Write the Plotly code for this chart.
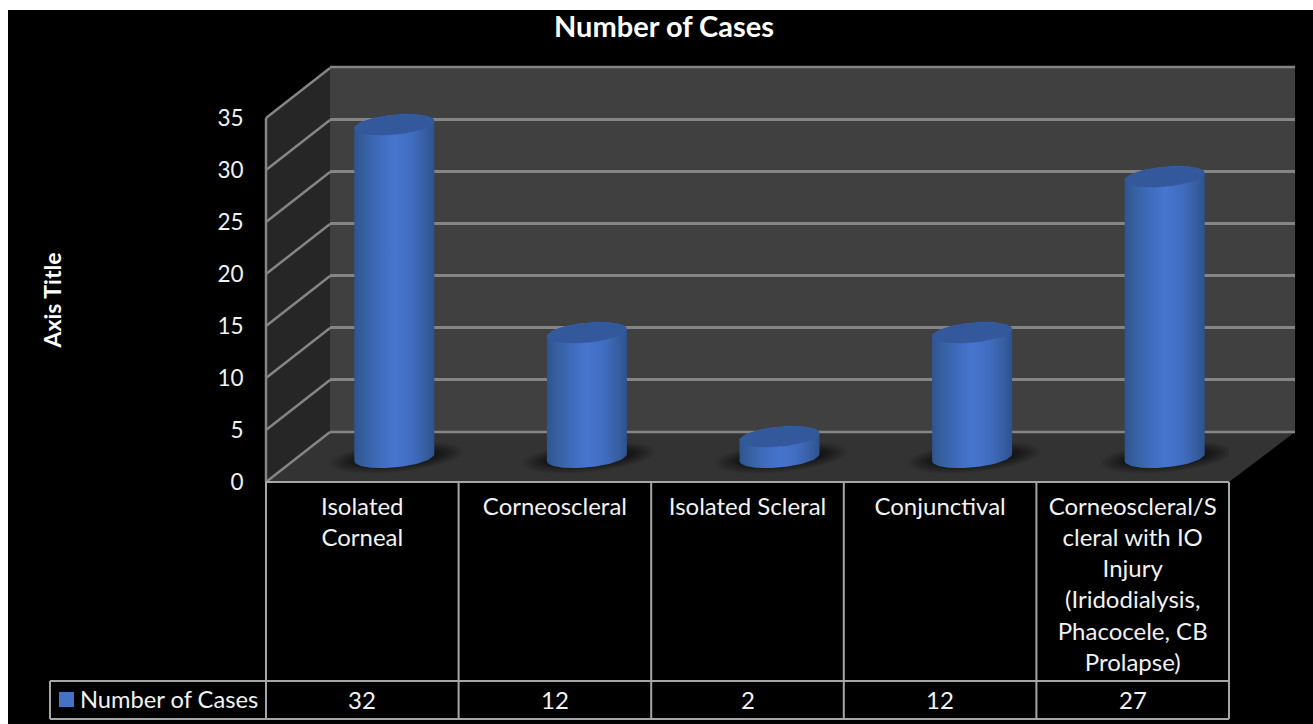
import math
import plotly.graph_objects as go

W, H = 1313, 724

# Chart data
categories = [
    ["Isolated", "Corneal"],
    ["Corneoscleral"],
    ["Isolated Scleral"],
    ["Conjunctival"],
    ["Corneoscleral/S", "cleral with IO", "Injury", "(Iridodialysis,", "Phacocele, CB", "Prolapse)"],
]
series_name = "Number of Cases"
cases = [32, 12, 2, 12, 27]
value_ticks = [0, 5, 10, 15, 20, 25, 30, 35]

# Pixel frame of the front plane, the back wall and the data table
FRONT_L, FRONT_R, FRONT_B, FRONT_T = 266, 1229, 482, 118
BACK_L, BACK_R, BACK_B, BACK_T = 330, 1295, 432, 67
TABLE_L, TABLE_ROW, TABLE_BOTTOM = 50, 681, 719

X_SCALE = (FRONT_R - FRONT_L) / 5          # px per category
Y_SCALE = (FRONT_B - FRONT_T) / 35         # px per case

# The front value axis runs past 0 and 35 so the cylinder caps are not clipped
Y_MIN, Y_MAX = -5, 40

# Cylinder geometry, in px, converted to axis units below
DEPTH_X, DEPTH_Y = 32, 24.5
RADIUS_X, RADIUS_Y, TILT = 40, 10, 0.09

TEXT = "#f2f2f2"
FONT = "Lato"
LABEL_SIZE = 24
GRID = "#858585"


def px(x):
    return x / W


def py(y):
    return 1 - y / H


def poly(points, fill, line=None, width=0):
    path = "M" + "L".join(f"{px(x):.5f},{py(y):.5f}" for x, y in points) + "Z"
    return dict(type="path", xref="paper", yref="paper", path=path, fillcolor=fill,
                line=dict(color=line or "rgba(0,0,0,0)", width=width), layer="below")


def seg(x0, y0, x1, y1, color=GRID, width=2.5):
    return dict(type="line", xref="paper", yref="paper", x0=px(x0), y0=py(y0), x1=px(x1), y1=py(y1),
                line=dict(color=color, width=width), layer="below")


shapes = [
    poly([(8, 10), (W, 10), (W, H), (8, H)], "#000000"),
    poly([(BACK_L, BACK_T), (BACK_R, BACK_T), (BACK_R, BACK_B), (BACK_L, BACK_B)], "#404040"),
    poly([(FRONT_L, FRONT_T), (BACK_L, BACK_T), (BACK_L, BACK_B), (FRONT_L, FRONT_B)], "#262626"),
    poly([(FRONT_L, FRONT_B), (BACK_L, BACK_B), (BACK_R, BACK_B), (FRONT_R, FRONT_B)], "#333333"),
]

# Side wall gridlines run from the value axis back to the wall
for v in value_ticks:
    shapes.append(seg(FRONT_L, FRONT_B - v * Y_SCALE, BACK_L, BACK_B - v * Y_SCALE))
shapes.append(seg(FRONT_L, FRONT_T, FRONT_L, FRONT_B))

# The axis drops gridlines at its two range ends, so those are added here
shapes.append(seg(BACK_L, BACK_T, BACK_R, BACK_T))
shapes.append(seg(BACK_L, BACK_B, BACK_R, BACK_B))

# Data table rules
for i in range(6):
    xc = FRONT_L + i * X_SCALE
    shapes.append(seg(xc, FRONT_B, xc, TABLE_BOTTOM, "#a6a6a6", 2))
shapes.append(seg(FRONT_L, FRONT_B, FRONT_R, FRONT_B, "#a6a6a6", 2))
shapes.append(seg(TABLE_L, TABLE_ROW, FRONT_R, TABLE_ROW, "#a6a6a6", 2))
shapes.append(seg(TABLE_L, TABLE_BOTTOM, FRONT_R, TABLE_BOTTOM, "#a6a6a6", 2))
shapes.append(seg(TABLE_L, TABLE_ROW, TABLE_L, TABLE_BOTTOM, "#a6a6a6", 2))

# Legend key inside the table's row header
shapes.append(poly([(59, 692), (74, 692), (74, 707), (59, 707)], "#4472C4"))


def ring(cx, cy, a, b, t0, t1, n=60):
    """Sheared ellipse arc in px offsets, returned as axis-unit coordinates."""
    xs, ys = [], []
    for k in range(n + 1):
        t = t0 + (t1 - t0) * k / n
        dx = a * math.cos(t)
        dy = b * math.sin(t) + TILT * dx
        xs.append(cx + dx / X_SCALE)
        ys.append(cy + dy / Y_SCALE)
    return xs, ys


fig = go.Figure()

# Back plane carries the native gridlines
fig.add_trace(go.Scatter(x=[None], y=[None], xaxis="x", yaxis="y", showlegend=False, hoverinfo="skip"))

depth_dx = DEPTH_X / X_SCALE
depth_dy = DEPTH_Y / Y_SCALE
gradient = dict(
    type="horizontal",
    colorscale=[[0, "#2f5492"], [0.12, "#36609f"], [0.3, "#3f6bbb"], [0.5, "#4675cf"],
                [0.72, "#416dc0"], [0.9, "#365d9f"], [1, "#2e5290"]],
)

# Soft floor shadows
SHADOW_STEPS = 18
for i in range(len(cases)):
    cx, cy = i + depth_dx, depth_dy
    for step in range(SHADOW_STEPS):
        f = 1 - step / SHADOW_STEPS
        xs, ys = ring(cx + 2 / X_SCALE, cy, 36 + 31 * f, 5 + 10 * f, 0, 2 * math.pi)
        fig.add_trace(go.Scatter(x=xs, y=ys, xaxis="x2", yaxis="y2", mode="lines", line=dict(width=0),
                                 fill="toself", fillcolor="rgba(0,0,0,0.04)",
                                 showlegend=False, hoverinfo="skip"))

# Cylinders, each built from its value
for i, v in enumerate(cases):
    cx, base, top = i + depth_dx, depth_dy, v + depth_dy
    front_x, front_y = ring(cx, base, RADIUS_X, RADIUS_Y, math.pi, 2 * math.pi)
    back_x, back_y = ring(cx, top, RADIUS_X, RADIUS_Y, 0, math.pi)
    fig.add_trace(go.Scatter(x=front_x + back_x, y=front_y + back_y, xaxis="x2", yaxis="y2", mode="lines",
                             line=dict(width=0), fill="toself", fillgradient=gradient,
                             name=series_name, showlegend=False, hoverinfo="skip"))
    cap_x, cap_y = ring(cx, top, RADIUS_X, RADIUS_Y, 0, 2 * math.pi)
    fig.add_trace(go.Scatter(x=cap_x, y=cap_y, xaxis="x2", yaxis="y2", mode="lines", line=dict(width=0),
                             fill="toself", fillcolor="#33599c", showlegend=False,
                             hovertemplate=f"{v}<extra></extra>"))

# Value row of the data table
ROW_MID = (TABLE_ROW + TABLE_BOTTOM) / 2 - 1
annotations = [
    dict(x=i, y=py(ROW_MID), xref="x2", yref="paper", text=str(v), showarrow=False,
         font=dict(family=FONT, size=LABEL_SIZE, color=TEXT), xanchor="center", yanchor="middle")
    for i, v in enumerate(cases)
]
annotations.append(dict(x=px(80), y=py(ROW_MID), xref="paper", yref="paper",
                        text=series_name, showarrow=False, xanchor="left", yanchor="middle",
                        xshift=-2, font=dict(family=FONT, size=23.7, color=TEXT)))

fig.update_layout(
    width=W, height=H,
    margin=dict(l=0, r=0, t=0, b=0),
    paper_bgcolor="#ffffff",
    plot_bgcolor="rgba(0,0,0,0)",
    showlegend=False,
    shapes=shapes,
    annotations=annotations,
    title=dict(text=f"<b>{series_name}</b>", x=px(664), y=py(27), xanchor="center", yanchor="middle",
               xref="paper", yref="paper", font=dict(family=FONT, size=29, color="#ffffff")),
    xaxis=dict(domain=[px(BACK_L), px(BACK_R)], range=[0, 1], anchor="y", visible=False),
    yaxis=dict(domain=[py(BACK_B), py(BACK_T)], range=[0, 35], anchor="x", tickvals=value_ticks,
               showgrid=True, gridcolor=GRID, gridwidth=2.5, zeroline=False, showticklabels=False,
               ticks="", showline=False),
    xaxis2=dict(domain=[px(FRONT_L), px(FRONT_R)], range=[-0.5, 4.5], anchor="free", position=py(FRONT_B),
                tickvals=list(range(len(categories))), ticktext=["<br>".join(c) for c in categories],
                showgrid=False, zeroline=False, showline=False, ticks="outside", ticklen=3,
                tickcolor="rgba(0,0,0,0)", tickangle=0, automargin=False,
                tickfont=dict(family=FONT, size=LABEL_SIZE, color=TEXT)),
    yaxis2=dict(domain=[py(FRONT_B - Y_MIN * Y_SCALE), py(FRONT_B - Y_MAX * Y_SCALE)], range=[Y_MIN, Y_MAX],
                anchor="x2", tickvals=value_ticks,
                showgrid=False, zeroline=False, showline=False, ticks="outside", ticklen=17,
                tickcolor="rgba(0,0,0,0)", automargin=False,
                tickfont=dict(family=FONT, size=22.5, color=TEXT),
                title=dict(text="<b>Axis Title</b>", standoff=149,
                           font=dict(family=FONT, size=23, color="#ffffff"))),
)

fig.write_html("out.html", config=dict(displayModeBar=False))
